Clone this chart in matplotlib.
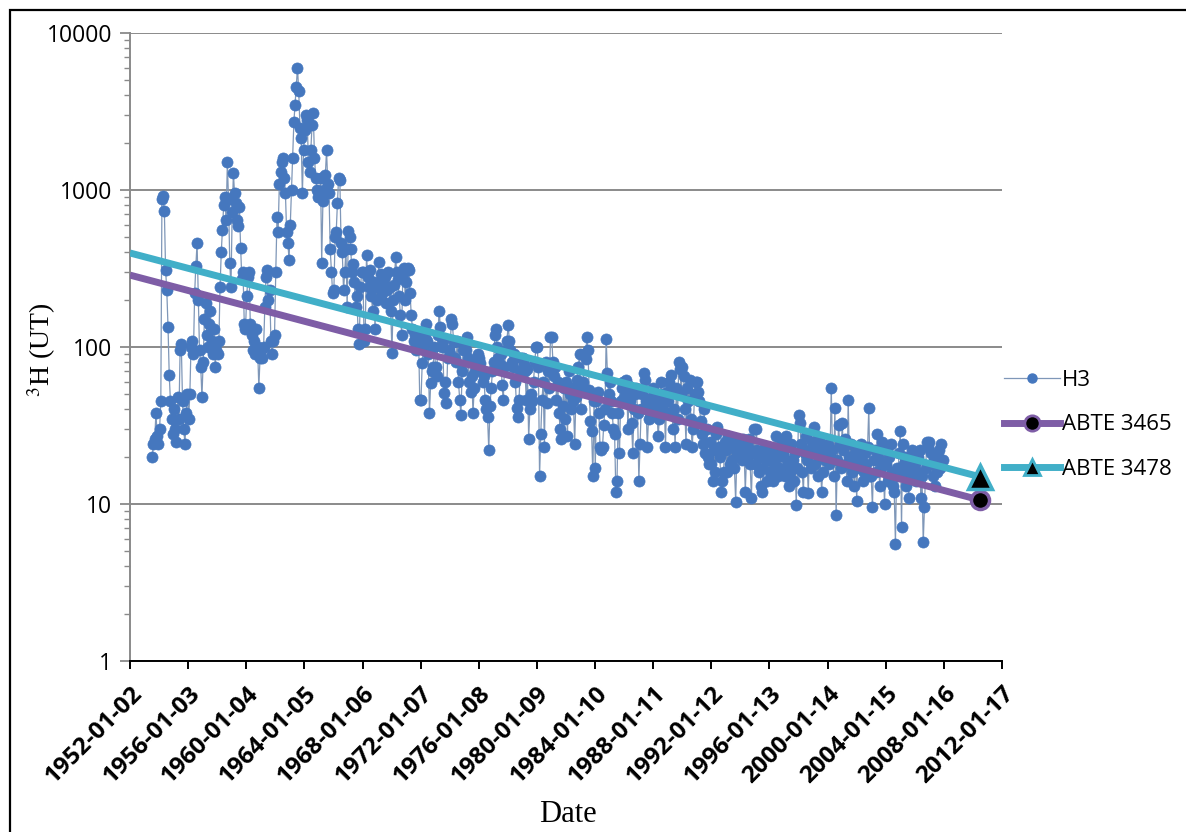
import numpy as np
import pandas as pd
import matplotlib
matplotlib.use('Agg')
import matplotlib.pyplot as plt
from matplotlib.lines import Line2D
from matplotlib.patches import Rectangle

# ---------------- data ----------------
h3_first_month = "1953-07-01"   # monthly samples, mid-month

h3_1953_1959 = [
    20, 24, 26, 38, 27, 24,
    30, 45, 880, 920, 740, 310, 230, 135, 66, 45, 35, 28,
    40, 30, 25, 48, 35, 95, 105, 45, 30, 24, 38, 50,
    35, 50, 100, 110, 90, 220, 330, 460, 200, 95, 75, 48,
    80, 150, 190, 120, 100, 140, 170, 110, 90, 130, 75, 95,
    90, 110, 240, 400, 560, 800, 900, 640, 1500, 870, 345, 240,
    720, 1280, 950, 830, 640, 590, 780, 430, 270, 300, 140, 130,
]
h3_1960s = [
    210, 280, 300, 140, 120, 95, 110, 90, 130, 100, 55, 85,
    95, 85, 100, 180, 280, 310, 200, 230, 110, 90, 110, 120,
    300, 670, 540, 1100, 1300, 1500, 1600, 1200, 950, 540, 460, 360,
    600, 1000, 1600, 2700, 3500, 4500, 6000, 4300, 2500, 2150, 950, 1800,
    2400, 3000, 2800, 1500, 1300, 1800, 2600, 3100, 1600, 1200, 1000, 900,
    900, 1200, 345, 850, 1000, 1250, 1800, 1100, 950, 420, 300, 220,
    230, 500, 540, 830, 1200, 1150, 460, 400, 230, 300, 420, 180,
    550, 500, 420, 300, 340, 260, 180, 210, 130, 105, 240, 300,
    300, 110, 130, 385, 280, 240, 310, 210, 170, 260, 130, 240,
    200, 350, 260, 290, 220, 250, 280, 190, 230, 300, 240, 170,
]
h3_1970s = [
    92, 200, 250, 375, 300, 270, 210, 160, 120, 290, 320, 200,
    260, 320, 310, 220, 160, 130, 110, 120, 95, 100, 115, 46,
    46, 79, 100, 115, 140, 110, 90, 38, 59, 70, 75, 100,
    75, 65, 120, 170, 135, 100, 110, 51, 60, 44, 85, 95,
    90, 150, 140, 108, 85, 80, 110, 60, 46, 37, 70, 95,
    100, 95, 115, 85, 60, 52, 65, 38, 55, 70, 80, 90,
    85, 79, 70, 60, 65, 46, 40, 36, 22, 42, 55, 70,
    80, 120, 130, 100, 85, 78, 90, 57, 46, 75, 95, 110,
    138, 110, 95, 80, 75, 90, 60, 41, 36, 46, 70, 85,
    85, 78, 70, 46, 72, 26, 40, 50, 45, 60, 80, 100,
]
h3_1980s = [
    100, 75, 15, 28, 46, 60, 23, 80, 44, 70, 55, 115,
    115, 80, 65, 75, 46, 60, 38, 30, 26, 42, 55, 35,
    60, 27, 70, 50, 40, 55, 45, 24, 48, 62, 75, 90,
    40, 55, 60, 90, 84, 115, 95, 53, 34, 29, 15, 45,
    17, 45, 52, 38, 23, 22, 23, 32, 40, 113, 68, 50,
    60, 45, 38, 30, 28, 12, 14, 38, 21, 45, 55, 60,
    48, 62, 58, 30, 52, 45, 33, 21, 40, 50, 55, 38,
    14, 24, 40, 50, 68, 62, 45, 23, 35, 38, 42, 48,
    55, 42, 48, 38, 27, 35, 60, 50, 40, 45, 23, 52,
    45, 60, 38, 66, 30, 40, 23, 55, 35, 80, 72, 50,
]
h3_1990s = [
    75, 65, 40, 24, 55, 45, 62, 35, 23, 30, 50, 60,
    60, 52, 45, 34, 28, 24, 40, 21, 30, 20, 18, 25,
    18, 14, 22, 16, 28, 31, 23, 20, 12, 14, 16, 25,
    22, 16, 27, 18, 23, 19, 25, 17, 10.3, 21, 26, 24,
    24, 19, 26, 22, 12, 20, 23, 26, 18, 11, 21, 30,
    18, 30, 22, 16, 20, 13, 12, 17, 23, 19, 14, 21,
    16, 19, 22, 14, 18, 27, 20, 15, 23, 17, 25, 21,
    20, 15, 27, 18, 13, 16, 24, 19, 14, 21, 9.9, 17,
    37, 33, 24, 16, 12, 21, 27, 19, 11.7, 22, 17, 25,
    25, 31, 18, 22, 15, 26, 20, 12, 16, 23, 19, 21,
]
h3_2000s = [
    24, 18, 20, 55, 22, 15, 41, 8.5, 19, 32, 24, 17,
    33, 22, 26, 18, 14, 46, 20, 24, 16, 19, 13, 21,
    10.5, 22, 17, 19, 24, 14, 16, 21, 18, 23, 41, 15,
    15, 9.6, 19, 22, 16, 28, 20, 13, 17, 25, 18, 10,
    18, 22, 14, 20, 24, 16, 13, 12, 5.6, 17, 15, 21,
    29, 7.1, 24, 18, 20, 13, 16, 11, 19, 15, 22, 17,
    18, 14, 16, 20, 22, 11, 15, 5.7, 9.5, 17, 25, 23,
    25, 21, 18, 15, 19, 13, 16, 20, 22, 17, 24, 19,
]

abte_dates = ["1952-01-02", "2010-07-14"]
abte_3465 = [287, 10.6]
abte_3478 = [397, 14.9]

series_names = ["H3", "ABTE 3465", "ABTE 3478"]

x_tick_labels = ["1952-01-02", "1956-01-03", "1960-01-04", "1964-01-05",
                 "1968-01-06", "1972-01-07", "1976-01-08", "1980-01-09",
                 "1984-01-10", "1988-01-11", "1992-01-12", "1996-01-13",
                 "2000-01-14", "2004-01-15", "2008-01-16", "2012-01-17"]
y_tick_values = [1, 10, 100, 1000, 10000]
y_tick_labels = ["1", "10", "100", "1000", "10000"]

# ---------------- styling ----------------
W, H = 1186, 832
C_H3 = '#4577BE'
C_H3_LINE = '#7f97b8'
C_PURPLE = '#7E5DA6'
C_CYAN = '#41AFC8'
GRID = '#8a8a8a'

h3_values = np.array(h3_1953_1959 + h3_1960s + h3_1970s + h3_1980s + h3_1990s + h3_2000s, dtype=float)
h3_dates = pd.date_range(h3_first_month, periods=len(h3_values), freq='MS') + pd.Timedelta(days=14)
abte_dt = pd.to_datetime(abte_dates)
tick_dt = pd.to_datetime(x_tick_labels)

fig = plt.figure(figsize=(W / 100, H / 100), dpi=100)
fig.patch.set_facecolor('white')

# outer chart-area frame (right and bottom edges run off the picture)
fig.patches.append(Rectangle((10 / W, -0.01), (W + 10) / W, (H - 10) / H + 0.01,
                             transform=fig.transFigure, fill=False,
                             edgecolor='black', linewidth=1.6, zorder=0))

ax = fig.add_axes([130 / W, 1 - 661 / H, 872 / W, 628 / H])

ax.plot(h3_dates, h3_values, color=C_H3_LINE, lw=0.9, marker='o', ms=8,
        mfc=C_H3, mec=C_H3, mew=0.5, zorder=3)
ax.plot(abte_dt, abte_3465, color=C_PURPLE, lw=5, solid_capstyle='butt', zorder=4)
ax.plot(abte_dt, abte_3478, color=C_CYAN, lw=5, solid_capstyle='butt', zorder=4)
ax.plot(abte_dt[-1:], abte_3465[-1:], linestyle='none', marker='o', ms=13,
        mfc='black', mec=C_PURPLE, mew=2.5, zorder=6)
ax.plot(abte_dt[-1:], abte_3478[-1:], linestyle='none', marker='^', ms=17,
        mfc='black', mec=C_CYAN, mew=2.5, zorder=6)

ax.set_yscale('log')
ax.set_ylim(1, 10000)
ax.set_xlim(tick_dt[0], tick_dt[-1])

ax.set_yticks(y_tick_values)
ax.set_yticklabels(y_tick_labels, fontsize=16.5, family='Open Sans')
ax.yaxis.set_minor_locator(matplotlib.ticker.LogLocator(base=10, subs=np.arange(2, 10)))
ax.yaxis.set_minor_formatter(matplotlib.ticker.NullFormatter())
ax.grid(True, axis='y', which='major', color=GRID, lw=1.4, zorder=0)
ax.set_axisbelow(True)

ax.set_xticks(tick_dt)
ax.set_xticklabels(x_tick_labels, rotation=45, ha='right', va='top',
                   rotation_mode='anchor', fontsize=17.5, fontweight='bold',
                   family='Open Sans')

for s in ['top', 'right']:
    ax.spines[s].set_visible(False)
ax.spines['left'].set_color(GRID)
ax.spines['left'].set_linewidth(1.4)
ax.spines['bottom'].set_color('black')
ax.spines['bottom'].set_linewidth(1.4)

ax.tick_params(axis='y', which='major', length=7, width=1.3, color=GRID, pad=6)
ax.tick_params(axis='y', which='minor', length=4, width=1.0, color=GRID)
ax.tick_params(axis='x', which='major', length=6, width=1.4, color='black', pad=9)

plt.rcParams['mathtext.fontset'] = 'stix'
fig.text(42 / W, 1 - 350 / H, r'$^{3}$H (UT)', rotation=90, ha='center', va='center',
         fontsize=20, family='Liberation Serif')
fig.text(568 / W, 1 - 815 / H, 'Date', ha='center', va='center',
         fontsize=22, family='Liberation Serif')

handles = [
    Line2D([], [], color=C_H3_LINE, lw=0.9, marker='o', ms=6.5, mfc=C_H3, mec=C_H3),
    Line2D([], [], color=C_PURPLE, lw=5, marker='o', ms=11, mfc='black', mec=C_PURPLE, mew=2),
    Line2D([], [], color=C_CYAN, lw=5, marker='^', ms=11, mfc='black', mec=C_CYAN, mew=2),
]
leg = fig.legend(handles, series_names, loc='center left',
                 bbox_to_anchor=(993 / W, 1 - 425 / H), frameon=False,
                 borderpad=0, handlelength=2.5, handletextpad=0.12,
                 labelspacing=1.05, prop={'family': 'Open Sans', 'size': 16})

fig.savefig('out.png', dpi=100, facecolor='white')
